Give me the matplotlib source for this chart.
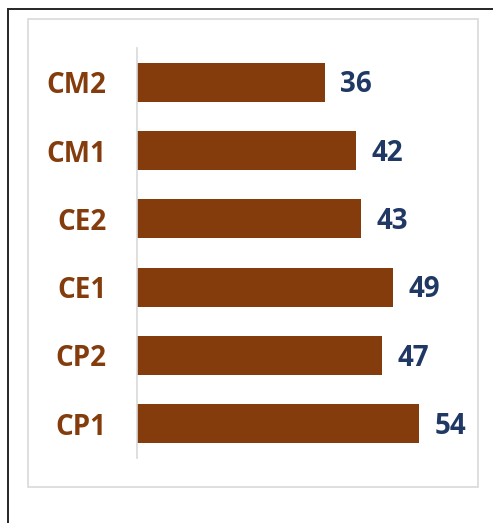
import matplotlib.pyplot as plt
from matplotlib.patches import Rectangle

# data, bottom to top
categories = ["CP1", "CP2", "CE1", "CE2", "CM1", "CM2"]
values = [54, 47, 49, 43, 42, 36]

bar_color = "#843C0C"
value_color = "#203864"

plt.rcParams['font.family'] = ['Open Sans', 'DejaVu Sans']

fig = plt.figure(figsize=(4.93, 5.23), dpi=100)
W, H = 493, 523

# outer dark frame (runs off the right and bottom edges) and inner light gray chart box
fig.patches.append(Rectangle((8 / W, -0.1), 1, (H - 9) / H + 0.1, transform=fig.transFigure,
                             fill=False, edgecolor="#262626", linewidth=1.4))
fig.patches.append(Rectangle((28 / W, (H - 487) / H), 450 / W, 468 / H, transform=fig.transFigure,
                             fill=False, edgecolor="#D9D9D9", linewidth=1.2))

ax = fig.add_axes([137 / W, 65 / H, 313 / W, 410 / H])
ax.barh(range(len(categories)), values, height=0.57, color=bar_color)

for i, v in enumerate(values):
    ax.text(v + 3.0, i - 0.04, str(v), va="center", ha="left", fontsize=20,
            fontweight="bold", color=value_color)

ax.set_xlim(0, 60)
ax.set_ylim(-0.5, len(categories) - 0.5)
ax.set_yticks(range(len(categories)))
ax.set_yticklabels(categories, fontsize=20, fontweight="bold", color=bar_color)
ax.tick_params(axis="y", length=0, pad=22)
ax.set_xticks([])

for side in ["top", "right", "bottom"]:
    ax.spines[side].set_visible(False)
ax.spines["left"].set_color("#D9D9D9")
ax.spines["left"].set_linewidth(1.2)

fig.savefig("out.png", dpi=100)
